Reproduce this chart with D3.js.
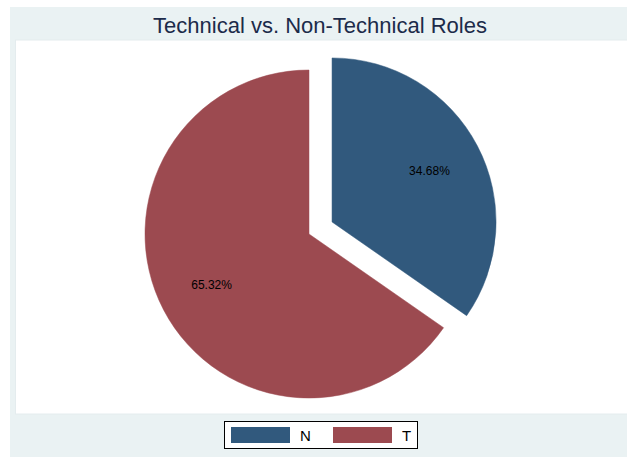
<!DOCTYPE html>
<html lang="en-US">

<head>
    <meta charset="UTF-8" />
    <title>Technical vs. Non-Technical Roles</title>
    <style>
        html, body {
            margin: 0;
            padding: 0;
            background: #fff;
        }

        svg {
            display: block;
            font-family: "Liberation Sans", Arial, sans-serif;
        }
    </style>
    <script src="https://d3js.org/d3.v7.min.js"></script>
</head>

<body>
    <div id="container"></div>
    <script>
        const title = "Technical vs. Non-Technical Roles";
        const categories = ["N", "T"];
        const shares = [34.68, 65.32];
        const explode = [true, false];
        const colors = ["#31597d", "#9c4a50"];

        const width = 627;
        const height = 457;

        const svg = d3
            .select("#container")
            .append("svg")
            .attr("width", width)
            .attr("height", height);

        // outer graph region
        svg.append("rect")
            .attr("x", 10).attr("y", 7)
            .attr("width", width).attr("height", height)
            .attr("fill", "#eaf2f3");

        // plot region
        svg.append("rect")
            .attr("x", 15.5).attr("y", 40)
            .attr("width", width).attr("height", 374)
            .attr("fill", "#fff")
            .attr("stroke", "#e4ecee")
            .attr("stroke-width", 1);

        svg.append("text")
            .attr("x", 320)
            .attr("y", 33)
            .attr("text-anchor", "middle")
            .attr("font-size", "22px")
            .attr("fill", "#1c2b4a")
            .text(title);

        const cx = 309, cy = 234, radius = 164, offset = 26;

        const pie = d3.pie().sort(null).value((d) => d.value);
        const arcs = pie(categories.map((c, i) => ({ name: c, value: shares[i], i })));

        const arc = d3.arc().innerRadius(0).outerRadius(radius);
        const labelArc = d3.arc().innerRadius(radius * 0.67).outerRadius(radius * 0.67);

        const g = svg.append("g").attr("transform", `translate(${cx},${cy})`);

        const slice = g.selectAll("g.slice")
            .data(arcs)
            .join("g")
            .attr("class", "slice")
            .attr("transform", (d) => {
                if (!explode[d.data.i]) return null;
                const mid = (d.startAngle + d.endAngle) / 2;
                return `translate(${Math.sin(mid) * offset},${-Math.cos(mid) * offset})`;
            });

        slice.append("path")
            .attr("d", arc)
            .attr("fill", (d) => colors[d.data.i])
            .attr("stroke", (d) => colors[d.data.i])
            .attr("stroke-width", 0.5);

        slice.append("text")
            .attr("transform", (d) => `translate(${labelArc.centroid(d)})`)
            .attr("text-anchor", "middle")
            .attr("dy", "0.35em")
            .attr("font-size", "12px")
            .attr("fill", "#000")
            .text((d) => d.data.value.toFixed(2) + "%");

        // legend
        const legend = svg.append("g");
        legend.append("rect")
            .attr("x", 224.5).attr("y", 421.5)
            .attr("width", 193).attr("height", 27)
            .attr("fill", "#fff")
            .attr("stroke", "#000")
            .attr("stroke-width", 1);

        const item = legend.selectAll("g.item")
            .data(categories)
            .join("g")
            .attr("class", "item")
            .attr("transform", (d, i) => `translate(${231 + i * 102},427)`);

        item.append("rect")
            .attr("width", 59).attr("height", 16)
            .attr("fill", (d, i) => colors[i]);

        item.append("text")
            .attr("x", 69)
            .attr("y", 14)
            .attr("font-size", "15px")
            .attr("fill", "#000")
            .text((d) => d);
    </script>
</body>

</html>
